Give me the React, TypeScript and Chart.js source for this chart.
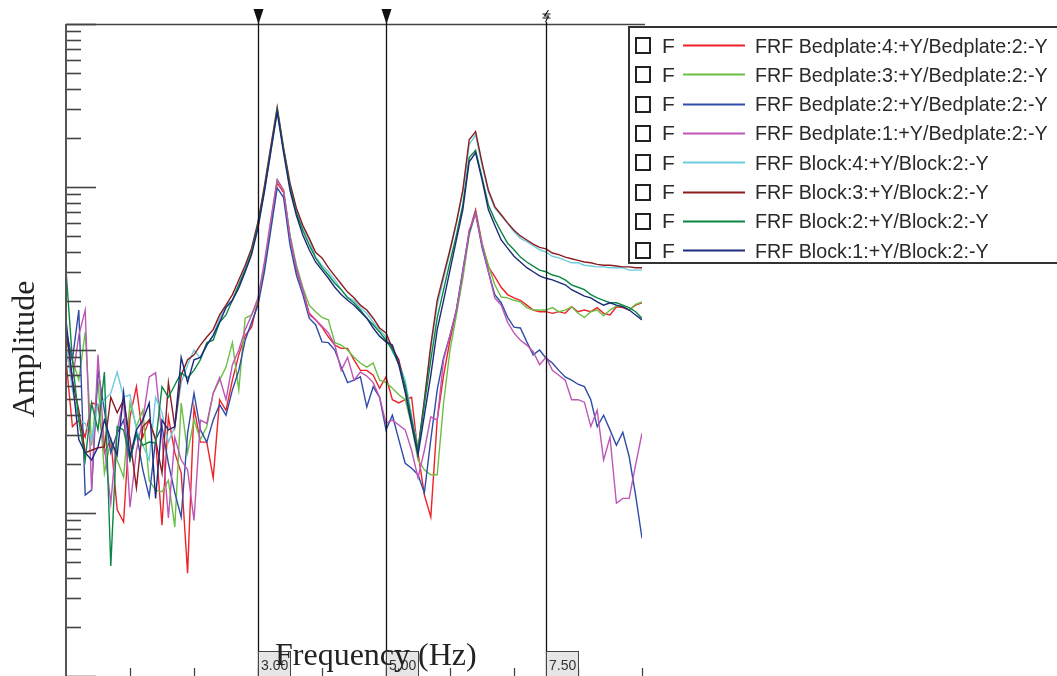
import React, { useEffect, useRef } from 'react';
import { Chart, registerables } from 'chart.js';

Chart.register(...registerables);

// Frequency axis (Hz)
const frequencyHz = [
  0.0, 0.1, 0.2, 0.3, 0.4, 0.5, 0.6, 0.7, 0.8, 0.9,
  1.0, 1.1, 1.2, 1.3, 1.4, 1.5, 1.6, 1.7, 1.8, 1.9,
  2.0, 2.1, 2.2, 2.3, 2.4, 2.5, 2.6, 2.7, 2.8, 2.9,
  3.0, 3.1, 3.2, 3.3, 3.4, 3.5, 3.6, 3.7, 3.8, 3.9,
  4.0, 4.1, 4.2, 4.3, 4.4, 4.5, 4.6, 4.7, 4.8, 4.9,
  5.0, 5.1, 5.2, 5.3, 5.4, 5.5, 5.6, 5.7, 5.8, 5.9,
  6.0, 6.1, 6.2, 6.3, 6.4, 6.5, 6.6, 6.7, 6.8, 6.9,
  7.0, 7.1, 7.2, 7.3, 7.4, 7.5, 7.6, 7.7, 7.8, 7.9,
  8.0, 8.1, 8.2, 8.3, 8.4, 8.5, 8.6, 8.7, 8.8, 8.9,
  9.0,
];

// FRF amplitudes in dB (20*log10)
const bedplate4dB = [
  -21.2, -29.4, -28.6, -30.7, -26.5, -26.7, -32.6, -31.0, -39.6, -41.1,
  -28.2, -24.5, -30.7, -28.6, -31.0, -41.5, -28.2, -32.6, -35.1, -47.4,
  -27.0, -31.3, -31.3, -35.7, -26.1, -27.4, -23.7, -20.6, -18.2, -17.2,
  -13.9, -9.9, -4.7, 0.5, -0.7, -6.1, -10.2, -12.6, -15.5, -16.3,
  -17.2, -18.4, -19.4, -19.8, -19.8, -21.2, -22.5, -22.5, -23.1, -24.7,
  -23.3, -26.1, -26.5, -26.1, -25.8, -32.6, -37.8, -40.5, -28.6, -23.1,
  -18.8, -15.1, -10.8, -5.5, -2.8, -6.9, -9.8, -11.0, -12.3, -13.2,
  -13.6, -13.9, -14.5, -15.1, -15.3, -15.3, -15.5, -15.3, -15.5, -14.7,
  -15.3, -15.1, -15.3, -14.8, -15.5, -15.7, -14.7, -14.8, -15.1, -14.5,
  -14.2,
];
const bedplate3dB = [
  -18.8, -21.2, -23.7, -17.8, -31.7, -23.7, -35.1, -31.0, -33.5, -35.6,
  -26.5, -29.4, -27.4, -36.0, -37.2, -37.4, -36.0, -41.7, -26.5, -32.6,
  -28.6, -31.0, -29.4, -25.3, -23.7, -22.1, -19.1, -24.9, -16.1, -15.7,
  -13.9, -9.6, -4.3, 0.9, -0.4, -5.9, -9.6, -12.3, -14.5, -15.3,
  -16.0, -16.3, -19.1, -19.4, -20.0, -20.9, -21.6, -22.1, -21.6, -23.7,
  -24.0, -24.7, -25.5, -26.1, -29.2, -33.5, -34.7, -35.3, -35.3, -26.5,
  -20.0, -15.7, -11.2, -5.9, -3.1, -6.9, -9.6, -12.0, -13.5, -13.6,
  -13.9, -14.1, -14.8, -15.1, -15.1, -15.1, -14.8, -15.3, -15.1, -14.7,
  -15.5, -16.0, -15.3, -15.1, -15.8, -15.1, -14.6, -14.6, -15.1, -14.4,
  -14.1,
];
const bedplate2dB = [
  -17.5, -21.2, -15.1, -37.8, -37.2, -22.5, -27.4, -32.6, -30.2, -28.6,
  -33.5, -30.2, -34.7, -38.0, -31.0, -29.4, -33.9, -37.5, -40.5, -30.2,
  -25.3, -29.8, -31.3, -28.6, -26.7, -28.0, -24.9, -22.5, -18.8, -16.6,
  -14.5, -10.4, -5.3, -0.1, -1.3, -7.1, -10.8, -13.2, -16.1, -16.9,
  -19.0, -19.1, -20.0, -22.1, -24.0, -23.7, -23.3, -27.0, -24.5, -25.8,
  -29.8, -28.0, -31.0, -33.9, -34.5, -35.3, -37.5, -31.0, -24.9, -20.9,
  -18.2, -15.1, -10.2, -5.6, -3.2, -7.4, -10.4, -13.2, -14.2, -16.0,
  -17.2, -17.3, -19.0, -20.6, -20.0, -21.0, -21.6, -22.5, -23.3, -23.7,
  -24.2, -24.5, -26.1, -29.4, -28.0, -29.8, -31.7, -30.1, -33.1, -37.8,
  -43.1,
];
const bedplate1dB = [
  -20.0, -23.7, -18.2, -15.1, -37.2, -20.6, -31.9, -38.8, -29.8, -26.1,
  -39.3, -32.3, -28.6, -23.3, -22.8, -30.7, -40.6, -30.7, -33.5, -34.7,
  -40.9, -28.6, -29.0, -25.3, -23.4, -26.1, -21.8, -20.0, -17.5, -15.7,
  -13.6, -9.2, -4.0, 0.9, -0.4, -6.1, -9.9, -12.6, -15.7, -16.3,
  -17.1, -17.9, -19.4, -22.5, -20.9, -23.7, -22.7, -23.2, -24.0, -25.8,
  -29.0, -28.6, -29.2, -29.8, -32.3, -35.7, -32.3, -28.2, -28.6, -21.2,
  -18.2, -15.1, -10.4, -5.3, -3.3, -7.1, -10.4, -13.6, -14.5, -16.6,
  -17.9, -18.8, -19.4, -20.2, -21.8, -20.9, -22.5, -23.1, -23.7, -26.1,
  -26.1, -26.4, -29.4, -27.4, -33.5, -30.7, -38.8, -38.2, -38.2, -34.1,
  -30.2,
];
const block4dB = [
  -19.4, -24.9, -28.6, -29.0, -31.0, -26.7, -26.1, -25.3, -22.7, -25.8,
  -25.5, -29.8, -31.7, -33.5, -25.8, -27.7, -31.3, -29.4, -24.0, -21.8,
  -20.0, -21.0, -19.4, -18.2, -16.1, -14.5, -13.9, -12.0, -9.9, -7.7,
  -4.3, -0.1, 4.8, 9.5, 4.5, 0.2, -2.8, -4.9, -6.5, -8.6,
  -9.6, -10.4, -11.4, -12.6, -13.5, -13.9, -14.8, -15.5, -16.6, -17.5,
  -18.4, -20.2, -21.5, -23.7, -28.0, -32.0, -26.1, -19.8, -14.5, -11.2,
  -8.0, -4.5, -0.6, 5.2, 6.4, 2.7, -0.6, -2.6, -3.5, -4.5,
  -5.5, -6.3, -6.7, -7.2, -7.7, -8.0, -8.5, -8.7, -9.0, -9.3,
  -9.3, -9.6, -9.7, -9.8, -9.8, -9.9, -9.9, -9.9, -10.2, -10.2,
  -10.2,
];
const block3dB = [
  -17.5, -23.7, -27.4, -32.6, -32.3, -32.0, -31.9, -25.8, -27.7, -26.1,
  -31.0, -36.9, -29.4, -28.6, -31.0, -35.1, -24.0, -29.4, -23.1, -21.2,
  -20.6, -19.4, -18.4, -17.5, -15.7, -14.5, -13.2, -11.4, -9.6, -7.5,
  -4.3, 0.1, 5.0, 9.8, 4.8, 0.5, -2.6, -4.7, -6.3, -8.0,
  -8.7, -9.9, -10.9, -11.9, -12.9, -13.6, -14.5, -15.1, -16.1, -17.3,
  -17.9, -19.8, -21.2, -24.7, -28.6, -32.3, -26.1, -19.4, -13.9, -10.8,
  -7.7, -4.3, -0.4, 5.8, 6.8, 3.0, -0.4, -2.4, -3.4, -4.4,
  -5.3, -6.0, -6.5, -7.0, -7.4, -7.6, -8.1, -8.3, -8.6, -8.8,
  -9.0, -9.2, -9.3, -9.5, -9.6, -9.6, -9.7, -9.8, -9.8, -9.9,
  -9.9,
];
const block2dB = [
  -10.2, -21.2, -28.6, -33.5, -26.5, -29.8, -22.7, -46.5, -29.4, -29.8,
  -33.5, -30.2, -31.7, -31.3, -31.4, -24.5, -25.8, -24.3, -22.8, -23.4,
  -22.5, -21.2, -19.1, -18.8, -16.6, -15.7, -13.9, -12.0, -10.2, -8.0,
  -4.7, -0.4, 4.5, 9.5, 4.5, 0.0, -3.2, -5.3, -7.1, -8.7,
  -9.9, -10.8, -11.8, -12.6, -13.6, -14.2, -15.1, -16.1, -16.9, -17.8,
  -18.8, -20.0, -21.8, -24.3, -28.6, -32.3, -26.7, -21.2, -16.1, -12.6,
  -9.2, -5.9, -2.2, 3.6, 4.5, 1.2, -2.2, -4.0, -5.5, -6.9,
  -7.7, -8.6, -9.2, -9.7, -10.2, -10.4, -10.8, -11.0, -11.4, -12.0,
  -12.3, -12.6, -13.2, -13.6, -13.9, -14.2, -14.2, -14.5, -14.8, -15.3,
  -16.1,
];
const block1dB = [
  -16.3, -23.7, -31.0, -32.6, -33.5, -31.9, -28.6, -31.0, -32.9, -25.2,
  -33.1, -29.8, -28.6, -26.5, -38.2, -28.6, -29.8, -29.4, -20.9, -24.0,
  -21.2, -20.9, -19.4, -18.2, -16.6, -14.8, -13.9, -12.4, -10.4, -8.3,
  -5.0, -0.6, 4.3, 9.2, 4.2, -0.4, -3.5, -5.9, -7.7, -9.2,
  -10.2, -11.2, -12.3, -13.2, -13.9, -14.5, -15.3, -16.1, -17.3, -18.3,
  -19.0, -19.4, -21.8, -25.2, -29.2, -32.9, -28.0, -23.1, -17.5, -13.9,
  -10.2, -6.5, -2.8, 3.1, 4.2, 0.9, -2.8, -4.7, -6.5, -7.5,
  -8.5, -9.2, -9.9, -10.4, -10.9, -11.2, -11.4, -11.7, -12.0, -12.6,
  -13.0, -13.4, -13.6, -14.1, -14.5, -14.2, -14.5, -14.7, -15.1, -15.7,
  -16.3,
];

const seriesLabels = [
  'FRF Bedplate:4:+Y/Bedplate:2:-Y',
  'FRF Bedplate:3:+Y/Bedplate:2:-Y',
  'FRF Bedplate:2:+Y/Bedplate:2:-Y',
  'FRF Bedplate:1:+Y/Bedplate:2:-Y',
  'FRF Block:4:+Y/Block:2:-Y',
  'FRF Block:3:+Y/Block:2:-Y',
  'FRF Block:2:+Y/Block:2:-Y',
  'FRF Block:1:+Y/Block:2:-Y',
];
const seriesValuesdB = [bedplate4dB, bedplate3dB, bedplate2dB, bedplate1dB, block4dB, block3dB, block2dB, block1dB];
const seriesColors = ['#EE2228', '#6CBF45', '#2F4DA6', '#BE56B6', '#6CCCE0', '#8E1B1E', '#0A8744', '#1D2A7C'];

const cursorPositionsHz = [3.0, 5.0, 7.5];
const cursorLabels = ['3.00', '5.00', '7.50'];
const cursorMarkers = ['triangle', 'triangle', 'break'];

const xTickValuesHz = [1, 2, 3, 4, 5, 6, 7, 8, 9];
const yDecades = [0.001, 0.01, 0.1, 1];
const yAxisMin = 0.001;
const yAxisMax = 10;

const overlayPlugin = {
  id: 'frfOverlay',
  afterDraw(chart: any) {
    const ctx = chart.ctx as CanvasRenderingContext2D;
    const xs = chart.scales.x;
    const ys = chart.scales.y;
    const area = chart.chartArea;
    const left = area.left;
    const bottom = area.bottom;
    ctx.save();

    // top border
    ctx.strokeStyle = '#444';
    ctx.lineWidth = 1.5;
    ctx.beginPath();
    ctx.moveTo(left, area.top + 0.5);
    ctx.lineTo(area.right + 3, area.top + 0.5);
    ctx.stroke();

    // y ticks (log, pointing inward)
    ctx.strokeStyle = '#444';
    ctx.lineWidth = 1.6;
    const tickVals: number[] = [];
    yDecades.forEach((d) => {
      for (let m = 1; m <= 9; m++) tickVals.push(m * d);
    });
    tickVals.push(yAxisMax);
    tickVals.forEach((v) => {
      const major = Math.abs(Math.log10(v) - Math.round(Math.log10(v))) < 1e-6;
      const y = Math.round(ys.getPixelForValue(v)) + 0.5;
      ctx.beginPath();
      ctx.moveTo(left, y);
      ctx.lineTo(left + (major ? 30 : 15), y);
      ctx.stroke();
    });

    // left axis line
    ctx.strokeStyle = '#555';
    ctx.lineWidth = 2;
    ctx.beginPath();
    ctx.moveTo(left, area.top);
    ctx.lineTo(left, bottom);
    ctx.stroke();

    // x ticks (bottom, pointing up)
    ctx.strokeStyle = '#444';
    ctx.lineWidth = 1.3;
    xTickValuesHz.forEach((f) => {
      const x = Math.round(xs.getPixelForValue(f)) + 0.5;
      ctx.beginPath();
      ctx.moveTo(x, bottom - 8);
      ctx.lineTo(x, bottom);
      ctx.stroke();
    });

    // cursors
    cursorPositionsHz.forEach((f, i) => {
      const x = Math.round(xs.getPixelForValue(f)) + 0.5;
      ctx.strokeStyle = '#111';
      ctx.lineWidth = 1.3;
      ctx.beginPath();
      ctx.moveTo(x, cursorMarkers[i] === 'triangle' ? 14 : 22);
      ctx.lineTo(x, bottom);
      ctx.stroke();
      if (cursorMarkers[i] === 'triangle') {
        ctx.fillStyle = '#111';
        ctx.beginPath();
        ctx.moveTo(x - 5, 9);
        ctx.lineTo(x + 5, 9);
        ctx.lineTo(x, 24);
        ctx.closePath();
        ctx.fill();
      } else {
        ctx.lineWidth = 1.1;
        ctx.beginPath();
        ctx.moveTo(x - 4, 14);
        ctx.lineTo(x + 4, 14);
        ctx.moveTo(x - 4, 18);
        ctx.lineTo(x + 4, 18);
        ctx.moveTo(x + 2, 10);
        ctx.lineTo(x - 2, 16);
        ctx.lineTo(x + 2, 16);
        ctx.lineTo(x - 1, 22);
        ctx.stroke();
      }
      // label box
      ctx.fillStyle = '#E6E6E6';
      ctx.fillRect(x, 651, 32, 27);
      ctx.strokeStyle = '#444';
      ctx.lineWidth = 1;
      ctx.strokeRect(x, 651.5, 32, 27);
      ctx.fillStyle = '#333';
      ctx.font = '14px "Liberation Sans", Arial, sans-serif';
      ctx.textAlign = 'left';
      ctx.textBaseline = 'alphabetic';
      ctx.fillText(cursorLabels[i], x + 2.5, 670);
    });

    // axis titles
    ctx.fillStyle = '#222';
    ctx.font = '32px "Liberation Serif", "Times New Roman", serif';
    ctx.textAlign = 'left';
    ctx.textBaseline = 'alphabetic';
    ctx.fillText('Frequency (Hz)', 275, 665);
    ctx.save();
    ctx.translate(33.5, 349);
    ctx.rotate(-Math.PI / 2);
    ctx.textAlign = 'center';
    ctx.fillText('Amplitude', 0, 0);
    ctx.restore();

    // legend
    const lx = 629;
    const ly = 27;
    const lb = 263;
    ctx.fillStyle = '#fff';
    ctx.fillRect(lx, ly, 1057 - lx + 5, lb - ly);
    ctx.strokeStyle = '#333';
    ctx.lineWidth = 2;
    ctx.beginPath();
    ctx.moveTo(1062, ly);
    ctx.lineTo(lx, ly);
    ctx.lineTo(lx, lb);
    ctx.lineTo(1062, lb);
    ctx.stroke();
    seriesLabels.forEach((label, i) => {
      const cy = 45 + i * 29.3;
      ctx.strokeStyle = '#222';
      ctx.lineWidth = 2;
      ctx.strokeRect(636, Math.round(cy) - 7, 14, 15);
      ctx.fillStyle = '#2a2a2a';
      ctx.font = '21px "Liberation Sans", Arial, sans-serif';
      ctx.textAlign = 'left';
      ctx.fillText('F', 662, cy + 7.5);
      ctx.strokeStyle = seriesColors[i];
      ctx.lineWidth = 2;
      ctx.beginPath();
      ctx.moveTo(683, Math.round(cy) + 0.5);
      ctx.lineTo(745, Math.round(cy) + 0.5);
      ctx.stroke();
      ctx.font = '19.7px "Liberation Sans", Arial, sans-serif';
      ctx.fillText(label, 755, cy + 7.5);
    });

    ctx.restore();
  },
};

export default function App() {
  const canvasRef = useRef<HTMLCanvasElement | null>(null);

  useEffect(() => {
    if (!canvasRef.current) return;
    const datasets = seriesLabels.map((label, i) => ({
      label,
      data: frequencyHz.map((f, k) => ({ x: f, y: Math.pow(10, seriesValuesdB[i][k] / 20) })),
      borderColor: seriesColors[i],
      backgroundColor: seriesColors[i],
      borderWidth: 1.4,
      pointRadius: 0,
      tension: 0,
      fill: false,
      order: seriesLabels.length - 1 - i,
    }));
    const chart = new Chart(canvasRef.current, {
      type: 'line',
      data: { datasets },
      options: {
        responsive: false,
        animation: false,
        devicePixelRatio: 1,
        layout: { padding: { left: 66, top: 24, right: 415, bottom: 0 } },
        scales: {
          x: { type: 'linear', min: 0, max: 9, display: false },
          y: { type: 'logarithmic', min: yAxisMin, max: yAxisMax, display: false },
        },
        plugins: { legend: { display: false }, tooltip: { enabled: false } },
      },
      plugins: [overlayPlugin],
    } as any);
    return () => chart.destroy();
  }, []);

  return (
    <div style={{ position: 'fixed', left: 0, top: 0, width: 1057, height: 676, background: '#fff' }}>
      <canvas ref={canvasRef} width={1057} height={676} style={{ display: 'block', width: 1057, height: 676 }} />
    </div>
  );
}
